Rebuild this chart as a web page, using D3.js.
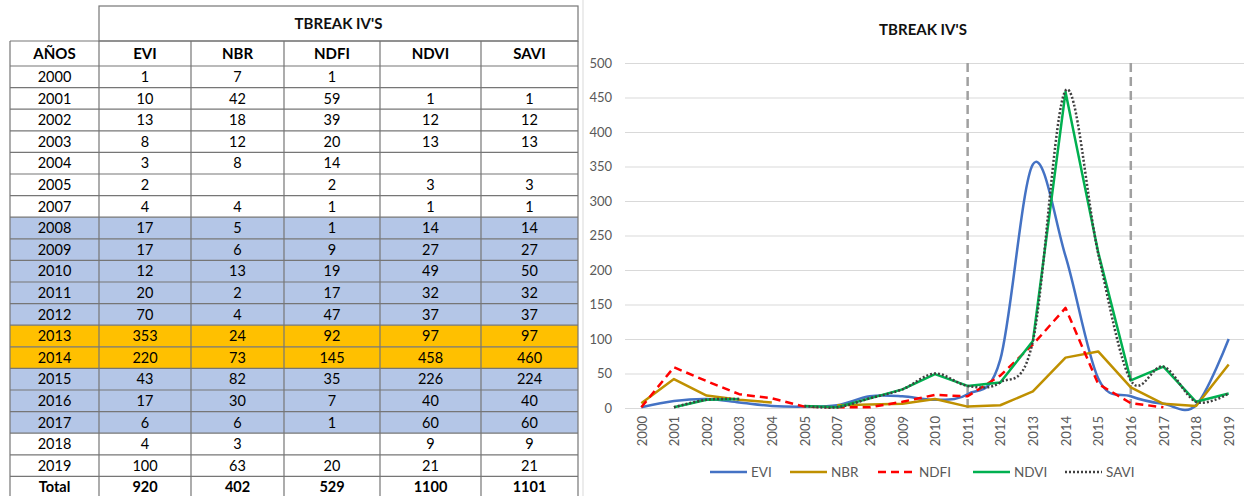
<!DOCTYPE html>
<html>
<head>
<meta charset="utf-8">
<script src="https://cdn.jsdelivr.net/npm/d3@7"></script>
<style>
  html, body { margin: 0; padding: 0; background: #fff; }
  svg { display: block; }
  text { font-family: Lato, "Open Sans", sans-serif; }
</style>
</head>
<body>
<svg id="fig" width="1244" height="496"></svg>
<script>
// Yearly break counts per vegetation index
const years = ["2000","2001","2002","2003","2004","2005","2007","2008","2009","2010",
               "2011","2012","2013","2014","2015","2016","2017","2018","2019"];
const evi  = [1, 10, 13, 8, 3, 2, 4, 17, 17, 12, 20, 70, 353, 220, 43, 17, 6, 4, 100];
const nbr  = [7, 42, 18, 12, 8, null, 4, 5, 6, 13, 2, 4, 24, 73, 82, 30, 6, 3, 63];
const ndfi = [1, 59, 39, 20, 14, 2, 1, 1, 9, 19, 17, 47, 92, 145, 35, 7, 1, null, 20];
const ndvi = [null, 1, 12, 13, null, 3, 1, 14, 27, 49, 32, 37, 97, 458, 226, 40, 60, 9, 21];
const savi = [null, 1, 12, 13, null, 3, 1, 14, 27, 50, 32, 37, 97, 460, 224, 40, 60, 9, 21];
const seriesNames = ["EVI", "NBR", "NDFI", "NDVI", "SAVI"];
const yTicks = [0, 50, 100, 150, 200, 250, 300, 350, 400, 450, 500];
const breakYears = ["2011", "2016"];
const studyYears = ["2008","2009","2010","2011","2012","2015","2016","2017"];
const peakYears = ["2013", "2014"];
const titleText = "TBREAK IV'S";
const yearHeader = "AÑOS";
const totalLabel = "Total";

const seriesValues = [evi, nbr, ndfi, ndvi, savi];

const style = {
  EVI:  { color: "#4472c4", dash: null,  smooth: true  },
  NBR:  { color: "#bf9000", dash: null,  smooth: false },
  NDFI: { color: "#ff0000", dash: "8,5", smooth: false },
  NDVI: { color: "#00b050", dash: null,  smooth: false },
  SAVI: { color: "#404040", dash: "2,2", smooth: true  }
};

const svg = d3.select("#fig");

/* ---------- table ---------- */
const colEdges = [10, 99, 191, 284, 380, 481, 578];
const titleTop = 6, headTop = 41, bodyTop = 66, rowH = 21.6;
const gridColor = "#767676";

const tbl = svg.append("g").attr("class", "table");

const rows = years.map((y, i) => ({ label: y, cells: seriesValues.map(s => s[i]), kind: "data" }));
rows.push({ label: totalLabel, cells: seriesValues.map(s => d3.sum(s)), kind: "total" });

const rowFill = r => peakYears.includes(r.label) ? "#ffc000"
                   : studyYears.includes(r.label) ? "#b4c6e7" : "#ffffff";

// row backgrounds
tbl.selectAll("rect.row").data(rows).join("rect")
  .attr("class", "row")
  .attr("x", colEdges[0]).attr("width", colEdges[6] - colEdges[0])
  .attr("y", (d, i) => bodyTop + i * rowH).attr("height", rowH)
  .attr("fill", rowFill);

// title box
tbl.append("rect")
  .attr("x", colEdges[1]).attr("y", titleTop)
  .attr("width", colEdges[6] - colEdges[1]).attr("height", headTop - titleTop)
  .attr("fill", "none").attr("stroke", gridColor).attr("stroke-width", 1.2);
tbl.append("text")
  .attr("x", (colEdges[1] + colEdges[6]) / 2).attr("y", (titleTop + headTop) / 2)
  .attr("dy", "0.36em").attr("text-anchor", "middle")
  .attr("font-size", 15).attr("font-weight", 700).attr("fill", "#111")
  .text(titleText);

// horizontal rules
const hLines = [headTop];
for (let i = 0; i <= rows.length; i++) hLines.push(bodyTop + i * rowH);
tbl.selectAll("line.h").data(hLines).join("line")
  .attr("class", "h")
  .attr("x1", colEdges[0]).attr("x2", colEdges[6])
  .attr("y1", d => d).attr("y2", d => d)
  .attr("stroke", gridColor).attr("stroke-width", 1.2);

// vertical rules
tbl.selectAll("line.v").data(colEdges).join("line")
  .attr("class", "v")
  .attr("x1", d => d).attr("x2", d => d)
  .attr("y1", headTop).attr("y2", bodyTop + rows.length * rowH)
  .attr("stroke", gridColor).attr("stroke-width", 1.2);

const colCenter = i => (colEdges[i] + colEdges[i + 1]) / 2;

// header row
const headers = [yearHeader].concat(seriesNames);
tbl.selectAll("text.head").data(headers).join("text")
  .attr("class", "head")
  .attr("x", (d, i) => colCenter(i)).attr("y", (headTop + bodyTop) / 2)
  .attr("dy", "0.36em").attr("text-anchor", "middle")
  .attr("font-size", 15).attr("font-weight", 700).attr("fill", "#000")
  .text(d => d);

// body cells
rows.forEach((r, ri) => {
  const cy = bodyTop + ri * rowH + rowH / 2;
  const vals = [r.label].concat(r.cells);
  tbl.selectAll(null).data(vals).join("text")
    .attr("x", (d, i) => colCenter(i)).attr("y", cy)
    .attr("dy", "0.36em").attr("text-anchor", "middle")
    .attr("font-size", 14.5)
    .attr("font-weight", r.kind === "total" ? 700 : 400)
    .attr("fill", "#000")
    .text(d => d == null ? "" : d);
});

/* ---------- line chart ---------- */
// chart frame edge
svg.append("line")
  .attr("x1", 583).attr("x2", 583).attr("y1", 0).attr("y2", 496)
  .attr("stroke", "#d9d9d9").attr("stroke-width", 1);

const x = d3.scalePoint().domain(years).range([625, 1245]).padding(0.5);
const y = d3.scaleLinear().domain([0, 500]).range([408, 63]);

const chart = svg.append("g").attr("class", "chart");

chart.append("text")
  .attr("x", 923).attr("y", 30).attr("dy", "0.36em")
  .attr("text-anchor", "middle")
  .attr("font-size", 15).attr("font-weight", 700).attr("fill", "#111")
  .text(titleText);

// horizontal gridlines
const yAxis = d3.axisLeft(y).tickValues(yTicks).tickSize(-(1245 - 625)).tickPadding(13);
const yg = chart.append("g").attr("transform", "translate(625,0)").call(yAxis);
yg.select(".domain").remove();
yg.selectAll(".tick line").attr("stroke", "#d9d9d9").attr("stroke-width", 1);
yg.selectAll(".tick text")
  .attr("font-size", 13).attr("fill", "#595959")
  .attr("font-family", "Lato, 'Open Sans', sans-serif");

// category axis labels, rotated
const xAxis = d3.axisBottom(x).tickSize(0).tickPadding(0);
const xg = chart.append("g").attr("transform", `translate(0,${y(0)})`).call(xAxis);
xg.select(".domain").remove();
xg.selectAll(".tick text")
  .attr("font-size", 13).attr("fill", "#595959")
  .attr("font-family", "Lato, 'Open Sans', sans-serif")
  .attr("transform", "rotate(-90)")
  .attr("text-anchor", "end")
  .attr("x", -8).attr("y", 0).attr("dy", "0.36em");

// break markers
chart.selectAll("line.break").data(breakYears).join("line")
  .attr("class", "break")
  .attr("x1", d => x(d)).attr("x2", d => x(d))
  .attr("y1", y(500)).attr("y2", y(0))
  .attr("stroke", "#a0a0a0").attr("stroke-width", 2.5)
  .attr("stroke-dasharray", "9,5");

// series lines
seriesNames.forEach((name, si) => {
  const st = style[name];
  const pts = years.map((yr, i) => ({ yr, v: seriesValues[si][i] }));
  const line = d3.line()
    .defined(d => d.v != null)
    .x(d => x(d.yr)).y(d => y(d.v))
    .curve(st.smooth ? d3.curveCatmullRom.alpha(0) : d3.curveLinear);
  chart.append("path")
    .datum(pts)
    .attr("d", line)
    .attr("fill", "none")
    .attr("stroke", st.color)
    .attr("stroke-width", 2.5)
    .attr("stroke-linejoin", "round")
    .attr("stroke-dasharray", st.dash);
});

// legend
const legendX = [710, 790, 878, 973, 1065];
const legend = chart.append("g").attr("class", "legend");
seriesNames.forEach((name, i) => {
  const st = style[name];
  const g = legend.append("g").attr("transform", `translate(${legendX[i]},472)`);
  g.append("line")
    .attr("x1", 0).attr("x2", 37).attr("y1", 0).attr("y2", 0)
    .attr("stroke", st.color).attr("stroke-width", 2.5)
    .attr("stroke-dasharray", st.dash);
  g.append("text")
    .attr("x", 41).attr("y", 0).attr("dy", "0.36em")
    .attr("font-size", 13.5).attr("fill", "#595959")
    .text(name);
});
</script>
</body>
</html>
